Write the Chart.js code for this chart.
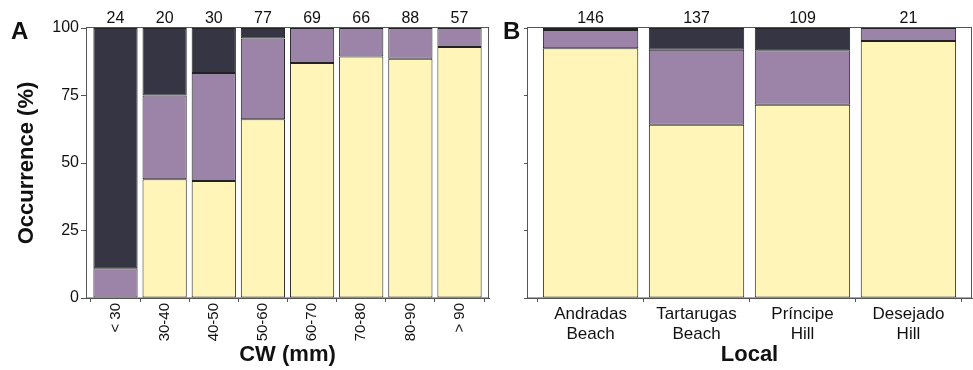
<!DOCTYPE html>
<html>
<head>
<meta charset="utf-8">
<script src="https://cdn.jsdelivr.net/npm/chart.js@4"></script>
<style>
  html, body { margin: 0; padding: 0; background: #fff; }
  #wrap { position: relative; width: 973px; height: 370px; overflow: hidden; }
  canvas { position: absolute; top: 0; }
  #cA { left: 0; }
  #cB { left: 495px; }
</style>
</head>
<body>
<div id="wrap">
  <canvas id="cA" width="495" height="370"></canvas>
  <canvas id="cB" width="478" height="370"></canvas>
</div>
<script>
// Panel A: occurrence (%) by carapace width class
const cwLabels = ['< 30', '30-40', '40-50', '50-60', '60-70', '70-80', '80-90', '> 90'];
const cwLight  = [0, 44, 43.3, 66.2, 87.0, 89.4, 88.6, 93.0];
const cwMid    = [11, 31, 40, 29.9, 13.0, 10.6, 11.4, 7.0];
const cwDark   = [89, 25, 16.7, 3.9, 0, 0, 0, 0];
const cwCounts = [24, 20, 30, 77, 69, 66, 88, 57];

// Panel B: occurrence (%) by locality
const localLabels = [['Andradas', 'Beach'], ['Tartarugas', 'Beach'], ['Príncipe', 'Hill'], ['Desejado', 'Hill']];
const localLight  = [92.5, 64.2, 71.6, 95.2];
const localMid    = [6.8, 27.7, 20.2, 4.8];
const localDark   = [0.7, 8.1, 8.2, 0];
const localCounts = [146, 137, 109, 21];

const yTicks = [0, 25, 50, 75, 100];

const FONT = "'Liberation Sans', Arial, sans-serif";
const C_LIGHT = '#FFF5B9';
const C_MID = '#9C84A9';
const C_DARK = '#363544';
const EDGE = '#222222';
const AXIS = '#555555';
const EXPAND = 0.6;   // space added beyond the first and last category

function series(values) {
  return values.map((v, i) => ({ x: i, y: v }));
}

function datasets(light, mid, dark) {
  const base = { borderColor: EDGE, borderWidth: 1, borderSkipped: false, stack: 's' };
  return [
    Object.assign({ label: 'class 1', data: series(light), backgroundColor: C_LIGHT }, base),
    Object.assign({ label: 'class 2', data: series(mid), backgroundColor: C_MID }, base),
    Object.assign({ label: 'class 3', data: series(dark), backgroundColor: C_DARK }, base)
  ];
}

// Draws the panel letter, the plot frame and the sample sizes above the bars
function panelPlugin(letter, letterX, counts) {
  return {
    id: 'panel' + letter,
    afterDatasetsDraw(chart) {
      const ctx = chart.ctx;
      const a = chart.chartArea;
      ctx.save();
      ctx.strokeStyle = AXIS;
      ctx.lineWidth = 1;
      ctx.strokeRect(Math.round(a.left) + 0.5, Math.round(a.top) - 0.5,
                     Math.round(a.right - a.left) - 1, Math.round(a.bottom - a.top) + 0.5);
      ctx.fillStyle = '#111';
      ctx.font = '16px ' + FONT;
      ctx.textAlign = 'center';
      ctx.textBaseline = 'alphabetic';
      const meta = chart.getDatasetMeta(chart.data.datasets.length - 1);
      meta.data.forEach((el, i) => {
        ctx.fillText(String(counts[i]), el.x, 23);
      });
      ctx.font = 'bold 24px ' + FONT;
      ctx.textAlign = 'left';
      ctx.fillText(letter, letterX, 39);
      ctx.restore();
    }
  };
}

function makeChart(id, cfg) {
  const n = cfg.labels.length;
  const yAxis = {
    stacked: true,
    min: 0, max: 100,
    afterBuildTicks(scale) { scale.ticks = yTicks.map(v => ({ value: v })); },
    afterFit(scale) { scale.width = cfg.yWidth; },
    grid: { display: true, drawOnChartArea: false, drawTicks: true, tickLength: cfg.yTickLen, color: AXIS },
    border: { display: true, color: AXIS },
    ticks: {
      color: '#111', padding: 2,
      font: { family: FONT, size: 16 },
      callback: cfg.yLabels ? (v => String(v)) : (() => '')
    },
    title: cfg.yTitle ? {
      display: true, text: cfg.yTitle, color: '#111',
      font: { family: FONT, size: 22, weight: 'bold' }, padding: { top: 4, bottom: 4 }
    } : { display: false }
  };
  const xAxis = {
    type: 'linear',
    stacked: true,
    min: -EXPAND, max: n - 1 + EXPAND,
    offset: false,
    afterBuildTicks(scale) { scale.ticks = cfg.labels.map((_, i) => ({ value: i })); },
    afterFit(scale) { scale.height = 72; },
    grid: { display: true, drawOnChartArea: false, drawTicks: true, tickLength: 4, color: AXIS },
    border: { display: true, color: AXIS },
    ticks: {
      color: '#111', autoSkip: false, padding: cfg.xPad,
      minRotation: cfg.rot, maxRotation: cfg.rot,
      font: { family: FONT, size: cfg.xSize, lineHeight: 1.2 },
      callback: v => cfg.labels[Math.round(v)]
    },
    title: {
      display: true, text: cfg.xTitle, color: '#111',
      font: { family: FONT, size: 22, weight: 'bold' }, padding: { top: 0, bottom: 2 }
    }
  };
  return new Chart(document.getElementById(id), {
    type: 'bar',
    data: { datasets: datasets(cfg.light, cfg.mid, cfg.dark) },
    options: {
      responsive: false,
      animation: false,
      devicePixelRatio: 1,
      layout: { padding: cfg.padding },
      barPercentage: 0.9,
      categoryPercentage: 1,
      plugins: { legend: { display: false }, tooltip: { enabled: false } },
      scales: { x: xAxis, y: yAxis }
    },
    plugins: [panelPlugin(cfg.letter, cfg.letterX, cfg.counts)]
  });
}

makeChart('cA', {
  labels: cwLabels, light: cwLight, mid: cwMid, dark: cwDark, counts: cwCounts,
  letter: 'A', letterX: 11,
  yWidth: 76, yTickLen: 5, yLabels: true, yTitle: 'Occurrence (%)',
  xTitle: 'CW (mm)', rot: 90, xSize: 15, xPad: 1,
  padding: { left: 10, right: 6, top: 28, bottom: 0 }
});

makeChart('cB', {
  labels: localLabels, light: localLight, mid: localMid, dark: localDark, counts: localCounts,
  letter: 'B', letterX: 8,
  yWidth: 32, yTickLen: 3, yLabels: false, yTitle: null,
  xTitle: 'Local', rot: 0, xSize: 17, xPad: 2,
  padding: { left: 0, right: 1, top: 28, bottom: 0 }
});
</script>
</body>
</html>
